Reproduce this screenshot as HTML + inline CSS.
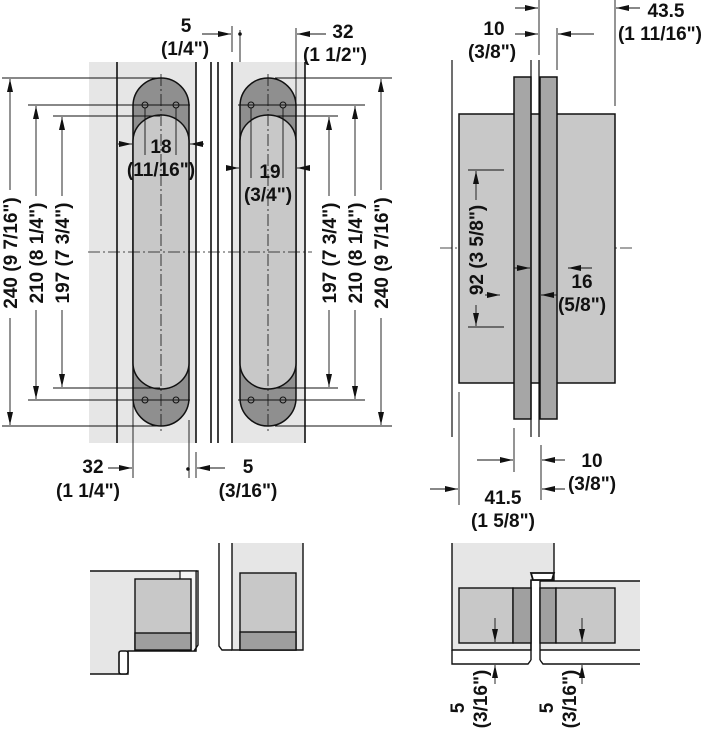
<!DOCTYPE html>
<html><head><meta charset="utf-8"><style>
html,body{margin:0;padding:0;background:#fff}
svg{display:block}
text{font-family:"Liberation Sans",Arial,sans-serif;font-weight:bold;font-size:19px;fill:#111}
</style></head><body>
<svg width="707" height="730" viewBox="0 0 707 730" xmlns="http://www.w3.org/2000/svg">
<defs>
<marker id="a" viewBox="0 0 13 6" refX="13" refY="3" markerWidth="13" markerHeight="6" markerUnits="userSpaceOnUse" orient="auto"><path d="M0,0 L13,3 L0,6z" fill="#111"/></marker>
</defs>
<g stroke="#111" stroke-width="1.2" fill="none">
<rect x="89" y="62" width="107" height="381" fill="#e6e6e6" stroke="none"/>
<rect x="232" y="62" width="73" height="381" fill="#e6e6e6" stroke="none"/>
<line x1="117" y1="62" x2="117" y2="443" stroke-width="1.6"/>
<line x1="196" y1="62" x2="196" y2="443" stroke-width="1.6"/>
<line x1="211" y1="62" x2="211" y2="443" stroke-width="1.6"/>
<line x1="218" y1="62" x2="218" y2="443" stroke-width="1.6"/>
<line x1="232" y1="62" x2="232" y2="443" stroke-width="1.6"/>
<line x1="305" y1="62" x2="305" y2="443" stroke-width="1.6"/>
<g stroke-width="1.5">
<path d="M133,106 A28,28 0 0 1 189,106 L189,398 A28,28 0 0 1 133,398 Z" fill="#8f8f8f"/>
<path d="M133,141 A28,26 0 0 1 189,141 L189,363 A28,26 0 0 1 133,363 Z" fill="#c8c8c8"/>
<path d="M240,106 A28,28 0 0 1 296,106 L296,398 A28,28 0 0 1 240,398 Z" fill="#8f8f8f"/>
<path d="M240,141 A28,26 0 0 1 296,141 L296,363 A28,26 0 0 1 240,363 Z" fill="#c8c8c8"/>
</g>
<g stroke-width="1">
<circle cx="145" cy="105" r="3"/><circle cx="176" cy="105" r="3"/>
<circle cx="251" cy="105" r="3"/><circle cx="283" cy="105" r="3"/>
<circle cx="145" cy="400" r="3"/><circle cx="176" cy="400" r="3"/>
<circle cx="251" cy="400" r="3"/><circle cx="283" cy="400" r="3"/>
</g>
<g stroke-width="0.8" stroke-dasharray="12,3,2,3">
<line x1="161" y1="74" x2="161" y2="432"/><line x1="268" y1="74" x2="268" y2="432"/>
<line x1="88" y1="252" x2="312" y2="252"/>
<line x1="440" y1="248" x2="632" y2="248"/>
</g>
<g stroke-width="0.9">
<line x1="2" y1="78" x2="160" y2="78"/><line x1="28" y1="105" x2="190" y2="105"/><line x1="53" y1="116" x2="160" y2="116"/>
<line x1="2" y1="426" x2="160" y2="426"/><line x1="28" y1="400" x2="190" y2="400"/><line x1="53" y1="388" x2="160" y2="388"/>
<line x1="275" y1="78" x2="392" y2="78"/><line x1="238" y1="105" x2="365" y2="105"/><line x1="275" y1="116" x2="338" y2="116"/>
<line x1="275" y1="426" x2="392" y2="426"/><line x1="238" y1="400" x2="365" y2="400"/><line x1="275" y1="388" x2="338" y2="388"/>
<line x1="10" y1="190" x2="10" y2="79" marker-end="url(#a)"/><line x1="10" y1="318" x2="10" y2="425" marker-end="url(#a)"/>
<line x1="36" y1="196" x2="36" y2="106" marker-end="url(#a)"/><line x1="36" y1="310" x2="36" y2="399" marker-end="url(#a)"/>
<line x1="62" y1="196" x2="62" y2="117" marker-end="url(#a)"/><line x1="62" y1="310" x2="62" y2="387" marker-end="url(#a)"/>
<line x1="329" y1="196" x2="329" y2="117" marker-end="url(#a)"/><line x1="329" y1="310" x2="329" y2="387" marker-end="url(#a)"/>
<line x1="355" y1="196" x2="355" y2="106" marker-end="url(#a)"/><line x1="355" y1="310" x2="355" y2="399" marker-end="url(#a)"/>
<line x1="381" y1="190" x2="381" y2="79" marker-end="url(#a)"/><line x1="381" y1="318" x2="381" y2="425" marker-end="url(#a)"/>
<line x1="202" y1="34" x2="231" y2="34" marker-end="url(#a)"/>
<line x1="232" y1="26" x2="232" y2="52"/>
<line x1="240" y1="30" x2="240" y2="62"/>
<line x1="296" y1="28" x2="296" y2="105"/>
<line x1="326" y1="34" x2="297" y2="34" marker-end="url(#a)"/>
<line x1="118" y1="144" x2="132" y2="144" marker-end="url(#a)"/><line x1="204" y1="144" x2="190" y2="144" marker-end="url(#a)"/>
<line x1="145" y1="108" x2="145" y2="155"/><line x1="176" y1="108" x2="176" y2="155"/>
<line x1="226" y1="168" x2="239" y2="168" marker-end="url(#a)"/><line x1="310" y1="168" x2="297" y2="168" marker-end="url(#a)"/>
<line x1="251" y1="108" x2="251" y2="178"/><line x1="283" y1="108" x2="283" y2="178"/>
<line x1="133" y1="400" x2="133" y2="478"/>
<line x1="108" y1="468" x2="132" y2="468" marker-end="url(#a)"/>
<line x1="189" y1="420" x2="189" y2="478"/>
<line x1="196" y1="452" x2="196" y2="478"/>
<line x1="225" y1="468" x2="197" y2="468" marker-end="url(#a)"/>
</g>
<circle cx="240" cy="34" r="1.8" fill="#111" stroke="none"/>
<circle cx="188" cy="469" r="1.8" fill="#111" stroke="none"/>

<rect x="459" y="114" width="156" height="269" fill="#c8c8c8" stroke-width="1.5"/>
<rect x="514" y="77" width="17" height="342" fill="#a6a6a6" stroke-width="1.5"/>
<rect x="540" y="77" width="17" height="342" fill="#a6a6a6" stroke-width="1.5"/>
<line x1="531" y1="60" x2="531" y2="437"/><line x1="539" y1="60" x2="539" y2="437"/>
<line x1="452" y1="60" x2="452" y2="437"/>
<g stroke-width="0.9">
<line x1="515" y1="8" x2="538" y2="8" marker-end="url(#a)"/>
<line x1="515" y1="34" x2="538" y2="34" marker-end="url(#a)"/>
<line x1="539" y1="0" x2="539" y2="55"/>
<line x1="557" y1="28" x2="557" y2="70"/>
<line x1="594" y1="34" x2="558" y2="34" marker-end="url(#a)"/>
<line x1="615" y1="0" x2="615" y2="106"/>
<line x1="640" y1="8" x2="616" y2="8" marker-end="url(#a)"/>
<line x1="468" y1="170" x2="504" y2="170"/><line x1="468" y1="327" x2="504" y2="327"/>
<line x1="476" y1="200" x2="476" y2="171" marker-end="url(#a)"/>
<line x1="476" y1="305" x2="476" y2="326" marker-end="url(#a)"/>
<line x1="485" y1="295" x2="500" y2="295" marker-end="url(#a)"/>
<line x1="514" y1="268" x2="530" y2="268" marker-end="url(#a)"/>
<line x1="557" y1="295" x2="541" y2="295" marker-end="url(#a)"/>
<line x1="592" y1="268" x2="568" y2="268" marker-end="url(#a)"/>
<line x1="514" y1="428" x2="514" y2="472"/>
<line x1="477" y1="460" x2="513" y2="460" marker-end="url(#a)"/>
<line x1="541" y1="445" x2="541" y2="500"/>
<line x1="565" y1="460" x2="542" y2="460" marker-end="url(#a)"/>
<line x1="565" y1="489" x2="542" y2="489" marker-end="url(#a)"/>
<line x1="459" y1="392" x2="459" y2="505"/>
<line x1="430" y1="489" x2="458" y2="489" marker-end="url(#a)"/>
</g>

<path d="M90,571 L196,571 L196,651 L128,651 L128,674 L90,674" fill="#e6e6e6" stroke-width="1.4"/>
<rect x="180" y="571" width="16" height="80" fill="#f4f4f4" stroke-width="1.2"/>
<path d="M196,571 L198,571 L198,645 L194,651" stroke-width="1.4"/>
<rect x="119" y="651" width="9" height="23" rx="2" fill="#fff" stroke-width="1.6"/>
<rect x="135" y="579" width="56" height="71" fill="#c8c8c8" stroke-width="1.4"/>
<rect x="135" y="633" width="56" height="17" fill="#9e9e9e" stroke-width="1.4"/>
<path d="M219,543 L219,646 L222,650 L232,650" stroke-width="1.4"/>
<rect x="232" y="543" width="71" height="107" fill="#e6e6e6" stroke="none"/>
<path d="M232,543 L232,650 L303,650 L303,543" stroke-width="1.4"/>
<rect x="240" y="573" width="56" height="77" fill="#c8c8c8" stroke-width="1.4"/>
<rect x="240" y="632" width="56" height="18" fill="#9e9e9e" stroke-width="1.4"/>

<path d="M452,543 L452,650 L531,650 L531,580 L554,580 L554,543" fill="#e6e6e6" stroke-width="1.4"/>
<path d="M540,581 L640,581 L640,650 L540,650 Z" fill="#e6e6e6" stroke="none"/>
<line x1="540" y1="581" x2="640" y2="581" stroke-width="1.4"/>
<line x1="540" y1="650" x2="640" y2="650" stroke-width="1.4"/>
<path d="M531,573 L554,573 L552,580 L533,580 Z" fill="#fff" stroke-width="1.8"/>
<line x1="531" y1="580" x2="531" y2="660" stroke-width="1.4"/>
<line x1="540" y1="581" x2="540" y2="660" stroke-width="1.4"/>
<path d="M452,650 L452,664 L528,664 L531,660" stroke-width="1.4"/>
<path d="M540,660 L543,664 L640,664" stroke-width="1.4"/>
<rect x="459" y="588" width="54" height="55" fill="#c8c8c8" stroke-width="1.4"/>
<rect x="513" y="588" width="18" height="55" fill="#a0a0a0" stroke-width="1.4"/>
<rect x="540" y="588" width="16" height="55" fill="#a0a0a0" stroke-width="1.4"/>
<rect x="556" y="588" width="59" height="55" fill="#c8c8c8" stroke-width="1.4"/>
<g stroke-width="0.9">
<line x1="495" y1="618" x2="495" y2="642" marker-end="url(#a)"/>
<line x1="495" y1="684" x2="495" y2="665" marker-end="url(#a)"/>
<line x1="582" y1="618" x2="582" y2="642" marker-end="url(#a)"/>
<line x1="582" y1="684" x2="582" y2="665" marker-end="url(#a)"/>
</g>
</g>

<g text-anchor="middle">
<text x="186" y="32">5</text><text x="185" y="55">(1/4")</text>
<text x="343" y="38">32</text><text x="335" y="61">(1 1/2")</text>
<text x="161" y="153">18</text><text x="161" y="176">(11/16")</text>
<text x="270" y="178">19</text><text x="268" y="201">(3/4")</text>
<text x="93" y="473">32</text><text x="88" y="497">(1 1/4")</text>
<text x="248" y="473">5</text><text x="248" y="497">(3/16")</text>
<text x="494" y="35">10</text><text x="492" y="58">(3/8")</text>
<text x="666" y="17">43.5</text><text x="660" y="40">(1 11/16")</text>
<text x="582" y="288">16</text><text x="582" y="311">(5/8")</text>
<text x="592" y="467">10</text><text x="592" y="490">(3/8")</text>
<text x="503" y="504">41.5</text><text x="503" y="527">(1 5/8")</text>
<text transform="translate(17,253) rotate(-90)">240 (9 7/16")</text>
<text transform="translate(43,253) rotate(-90)">210 (8 1/4")</text>
<text transform="translate(69,253) rotate(-90)">197 (7 3/4")</text>
<text transform="translate(336,253) rotate(-90)">197 (7 3/4")</text>
<text transform="translate(362,253) rotate(-90)">210 (8 1/4")</text>
<text transform="translate(388,253) rotate(-90)">240 (9 7/16")</text>
<text transform="translate(483,250) rotate(-90)">92 (3 5/8")</text>
<text transform="translate(464,708) rotate(-90)">5</text>
<text transform="translate(487,699) rotate(-90)">(3/16")</text>
<text transform="translate(553,708) rotate(-90)">5</text>
<text transform="translate(576,699) rotate(-90)">(3/16")</text>
</g>
</svg>
</body></html>
